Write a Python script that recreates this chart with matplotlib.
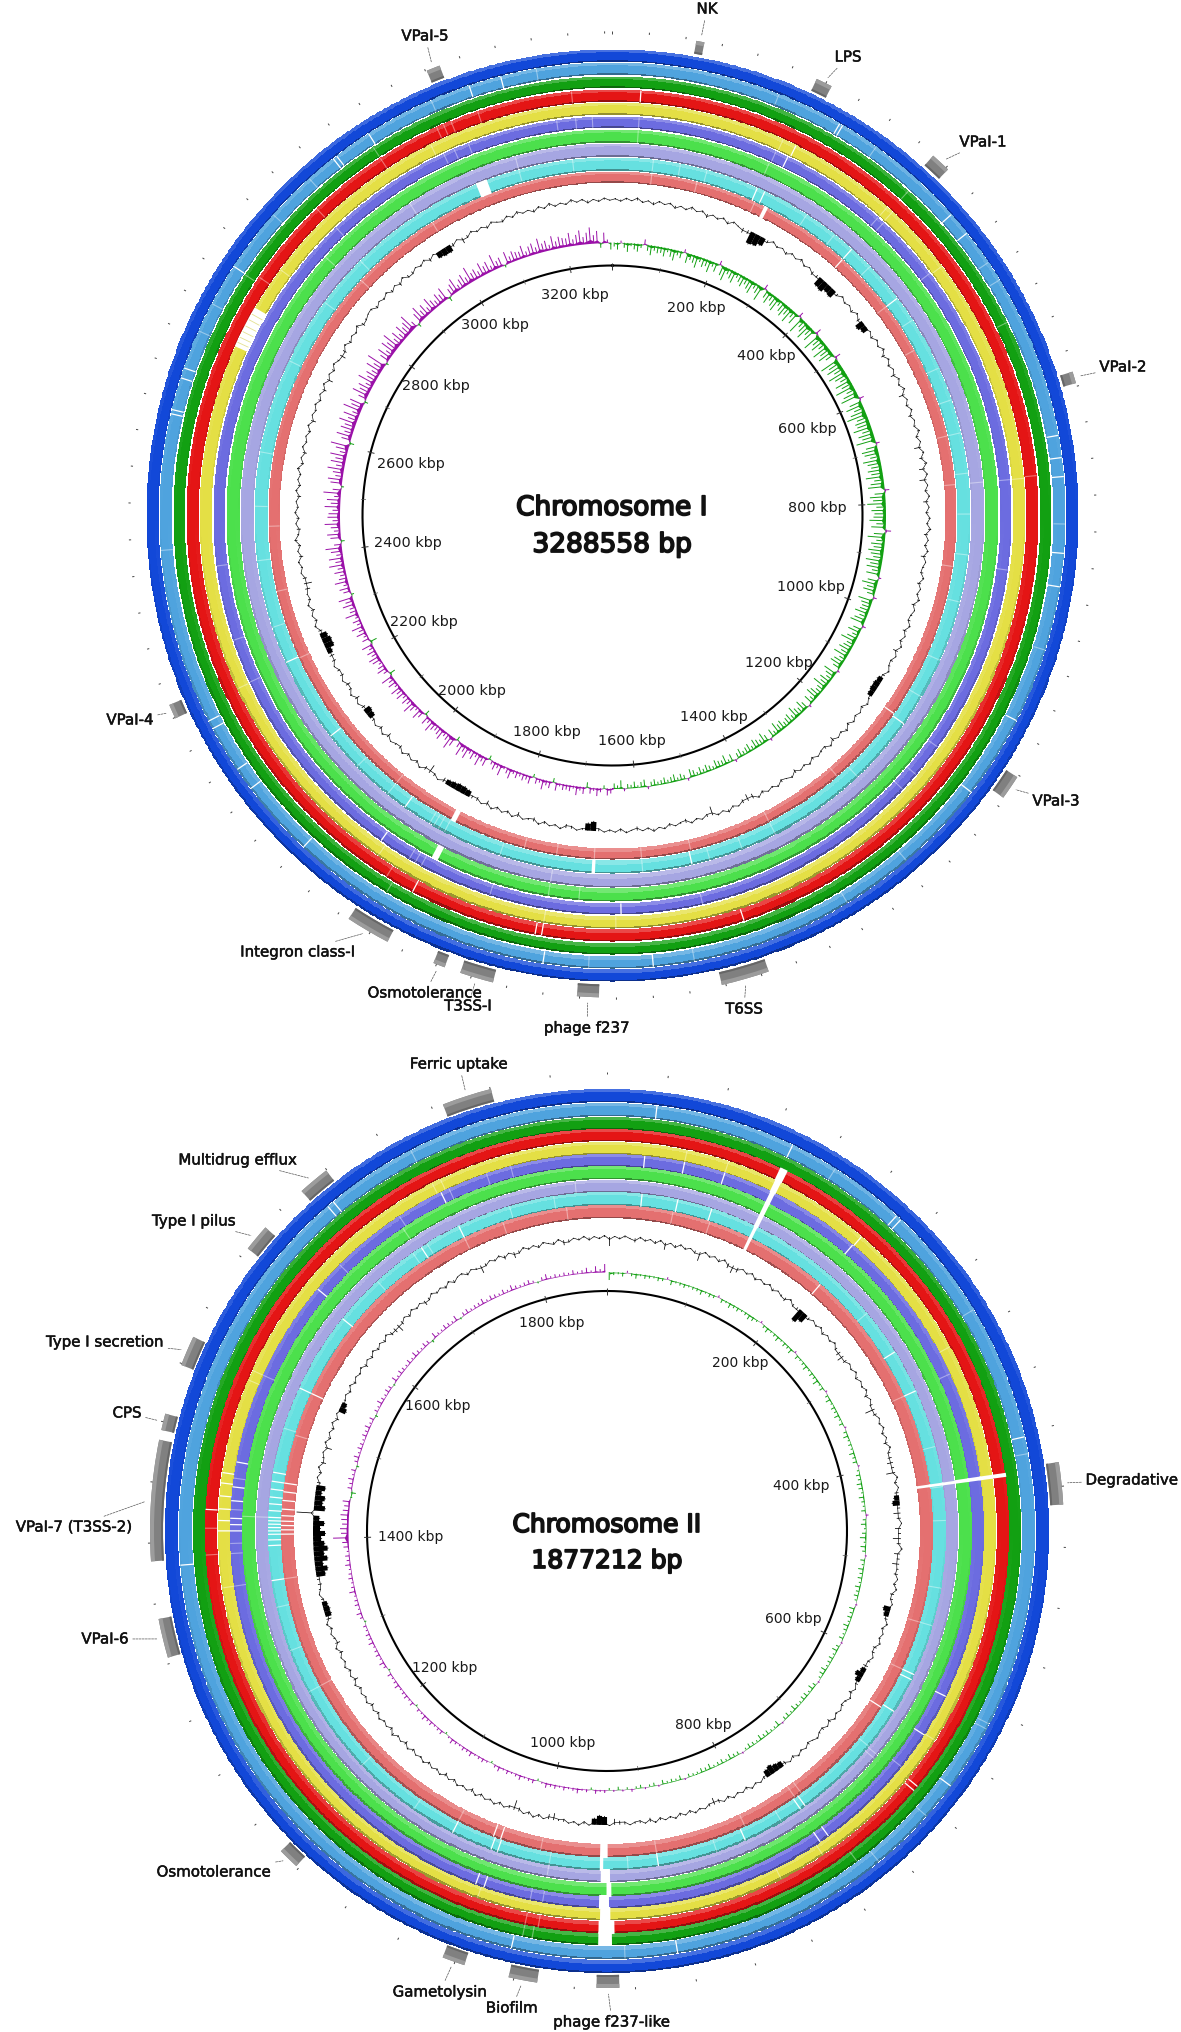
import matplotlib
matplotlib.use("Agg")
import matplotlib.pyplot as plt
import matplotlib.patheffects as pe
import numpy as np

W, H = 1181, 2033

# ring colours, outside to inside
ring_cols = ['#1248d8', '#4fa3de', '#12a012', '#e41515', '#e4df45',
             '#6c6ce0', '#4ce04c', '#a6a6e2', '#66e0e0', '#e47070']
BLUE, SKY, DGREEN, RED, YELLOW, PURPLE, LIME, LAV, CYAN, SALMON = range(10)

# ---------- chromosome I ----------
c1_size = 3288.558
c1_ticks = list(range(200, 3201, 200))
c1_feat_names = ['NK', 'LPS', 'VPaI-1', 'VPaI-2', 'VPaI-3', 'T6SS', 'phage f237', 'T3SS-I',
                 'Osmotolerance', 'Integron class-I', 'VPaI-4', 'VPaI-5']
c1_feat_mid = [96, 238, 392, 670, 1136, 1498, 1671, 1794, 1837, 1923, 2247, 3089]
c1_feat_len = [9, 18, 22, 13, 27, 53, 24, 37, 13, 49, 16, 15]

# white lines in each ring (kbp)
c1_sky_hard = [275, 279, 442, 470, 729, 755, 777, 866, 905, 1068, 1166, 1597, 1725, 2037, 2128, 2155,
               2210, 2220, 2585, 2590, 2628, 2640, 2771, 2941, 2946, 2991, 3120, 3158]
c1_sky_soft = [197, 325, 512, 536, 832, 980, 1275, 1359, 1549, 1672, 2426, 2686, 2721, 2846, 2905, 3073, 3200]
c1_dgreen_soft = [387, 584, 1927, 2770, 2987]
c1_red_hard = [35, 1480, 1732, 1740, 1900]
c1_red_soft = [773, 1937, 2777, 2887, 2987, 3066, 3075, 3085, 3120, 3238]
c1_yellow_hard = [241]
c1_yellow_soft = [223, 381, 390, 483, 775, 1732, 1640, 1960, 2240, 2800, 3050]
c1_purple_hard = [238, 1633, 1968]
c1_purple_soft = [35, 221, 381, 391, 481, 775, 894, 1146, 1192, 1218, 1525, 1808, 1906, 1915, 1924, 2241,
                  2300, 2400, 2888, 3060, 3075, 3095, 3215, 3240, 3262]
c1_lime_soft = [35, 219, 1690, 1732, 2850]
c1_lav_soft = [775, 1732, 2987, 3150]
c1_cyan_hard = [218, 230, 383, 481, 1147, 1527, 1968, 2119, 2245]
c1_cyan_soft = [60, 100, 140, 300, 350, 420, 520, 600, 650, 700, 760, 820, 880, 950, 1040, 1100, 1250, 1397,
                1450, 1500, 1600, 1812, 1900, 1910, 1918, 1925, 2000, 2060, 2300, 2400, 2480, 2560, 2700, 2800,
                2880, 3150, 3230]
c1_salmon_hard = [383, 1143]
c1_salmon_soft = [60, 130, 223, 481, 560, 700, 775, 900, 1272, 1397, 1524, 1600, 1672, 1730, 1780, 2000,
                  2243, 2350, 2450, 2860, 3000]
# wider white patches: ring, from, to
c1_patch_ring = [YELLOW, CYAN, CYAN, LIME, SALMON, SALMON]
c1_patch_from = [2687, 3084, 1670, 1890, 1892, 239]
c1_patch_to = [2742, 3101, 1675, 1899, 1900, 245]
c1_yellow_traces = [2693, 2700, 2708, 2716, 2725, 2733]

# GC content deviation, one value per degree
c1_gc = [
    1, -2, 2, -1, 3, -2, 1, -3, 2, -1,
    2, -3, 1, -2, 3, -1, 2, -4, 1, -2,
    2, -3, 2, -1, -5, -4, -13, -12, -9, -3,
    2, -2, 1, -3, 2, -1, 3, -2, 1, -4,
    -3, -10, -11, -8, -9, -3, 2, -2, 1, -3,
    2, -4, -9, -7, 1, -3, 2, -2, 3, -4,
    2, -3, 1, -5, 2, -2, 3, -6, 1, -3,
    2, -4, 1, -2, 3, -3, 1, -7, 2, -4,
    3, -6, 2, -7, 1, -3, 2, -5, 1, -3,
    2, -2, 3, -4, 1, -3, 2, -5, 1, -2,
    -3, 2, -4, 1, -2, 3, -4, 1, -2, -3,
    2, -4, 1, -3, 2, -5, 1, -3, -2, 2,
    -3, -6, -7, -7, -6, -2, 2, -3, 1, -2,
    2, -3, 3, -2, 1, -5, 2, -3, -2, 1,
    -3, 2, -2, 1, -4, 2, -1, -3, 2, -2,
    1, -3, 2, -5, -7, -4, 1, -2, 3, -1,
    2, -9, -3, 1, -2, 2, -4, -2, 1, -3,
    2, -1, 3, -2, 1, -4, -1, 2, -3, 1,
    -2, 1, -3, -10, -8, -2, 1, -3, -4, 2,
    -2, 1, -3, 2, -4, -2, 1, -5, 2, -3,
    1, -3, 2, -5, 1, -4, -3, -7, -8, -8,
    -7, -6, -5, 1, -3, -9, -4, 2, -3, 1,
    -3, 2, -4, -2, 1, -5, 2, -4, 1, -3,
    -7, -8, -4, 1, -5, 2, -3, -5, 1, -4,
    -3, 1, -4, -5, -6, -10, -10, -8, -4, 2,
    -3, 1, -4, 2, -3, -1, -5, -8, -4, 1,
    -2, 2, -4, 1, -3, 3, -2, -4, 1, -3,
    2, -2, 1, -4, 2, -3, 1, -2, 3, -3,
    1, -4, 2, -2, 1, -3, 2, -5, 1, -2,
    2, -3, 1, -4, 2, -6, 1, -3, 2, -2,
    -6, -4, 2, -3, 1, -2, 3, -4, -2, 1,
    2, -3, 1, -2, 2, -3, 1, -4, 2, -3,
    -3, 1, -2, 2, -4, 1, -7, -8, -8, -4,
    1, -6, -3, 2, -2, 1, -3, 2, -1, -3,
    2, -2, 3, -1, 1, -3, 2, -2, 3, -2,
    1, -2, 3, -1, 2, -3, 1, -2, 2, -1,
]

# GC skew, positive outward (magenta), negative inward (green), 14 values per 10 degrees
c1_skew = [
    -4, -7, 2, -5, -9, -3, -6, -8, -4, 5, -6, -10, -5, -7,
    -6, -9, -4, -8, -11, -5, -7, 3, -10, -6, -8, -12, -5, -9,
    -7, -12, -5, -9, 4, -10, -14, -6, -9, -12, -5, -8, -11, -7,
    -10, -13, -6, -9, -15, 5, -8, -12, -7, -11, -14, -6, -10, -13,
    -9, -15, -7, -12, 5, -17, -8, -11, -16, -9, -13, 6, -18, -10,
    -14, -8, -17, -11, -15, -9, 6, -19, -12, -16, -10, -18, -13, -9,
    -16, -11, -19, -9, -14, -18, 5, -12, -17, -10, -15, -20, -11, -14,
    -13, -18, -10, -15, -12, -19, 4, -11, -16, -14, -9, -17, -13, -10,
    -14, -11, -17, -9, -13, -16, 5, -10, -15, -12, -18, -9, -14, -11,
    -12, -16, -9, -14, 6, -11, -17, -8, -13, -10, -15, -12, -9, -16,
    -11, -14, -8, -13, 3, -10, -15, -9, -12, -7, 4, -14, -10, -8,
    -9, -13, -7, -11, -14, 4, -8, -12, -6, -10, -15, -7, -9, -12,
    -8, -14, -6, -10, -12, -7, 3, -13, -9, -6, -11, -8, -14, -7,
    -6, -10, -12, -5, -9, 3, -7, -11, -6, -8, -12, -5, -9, -7,
    -5, -9, -7, -11, -4, -8, 3, -6, -10, -5, -7, -9, -4, -8,
    -6, -4, -8, -5, 3, -7, -3, -9, -5, -6, -8, -3, -5, -7,
    -4, -7, -3, -6, -8, 3, -4, -6, -3, -7, -5, -3, -6, -4,
    -3, -6, -4, 3, -7, -5, -2, -6, -3, -4, 3, -8, -3, -5,
    5, 7, -3, 4, 8, 3, 6, -5, 7, 4, 9, 3, 6, 5,
    6, 3, 8, -4, 7, 5, 10, 4, 6, -3, 8, 5, 7, 4,
    7, 4, 10, 6, 3, 11, 5, 8, 4, -4, 9, 6, 12, 5,
    9, 5, 12, 7, 13, 6, -4, 9, 14, 7, 5, 11, 8, 6,
    8, 12, 5, 9, -5, 7, 11, 4, 8, 13, 6, 9, 5, 10,
    7, 11, 4, 9, 6, 12, -6, 5, 10, 7, 4, 9, 11, 6,
    9, 5, 11, -7, 7, 4, 10, 6, 12, 5, 8, 4, 13, 7,
    6, 12, 8, 14, -3, 7, 10, 5, 13, 8, 6, 11, 7, 15,
    8, 14, 6, 11, 16, 7, -4, 10, 13, 6, 9, 15, 7, 12,
    11, 7, 15, 9, 13, 6, 17, 8, -3, 11, 14, 7, 10, 16,
    8, 14, 10, 16, 7, 12, 18, -5, 9, 15, 8, 13, 10, 17,
    9, 15, 7, 18, 11, 14, -4, 8, 16, 10, 13, 7, 17, 9,
    12, 8, 16, 10, 19, -3, 9, 14, 7, 15, 11, 18, 8, 13,
    7, 14, 9, 12, 17, 6, -4, 10, 15, 8, 12, 6, 14, 9,
    6, 11, 8, 13, -5, 7, 10, 14, 5, 9, 12, 7, 16, 8,
    10, 6, 13, 8, 11, 5, 15, 7, 9, -3, 12, 6, 10, 8,
    7, 12, 5, 9, 11, 6, 14, 8, 10, 5, 13, 7, 11, 9,
    8, 13, 6, 10, 14, 7, 11, 16, 8, 12, -5, 10, 3, -7,
]

# ---------- chromosome II ----------
c2_size = 1877.212
c2_ticks = list(range(200, 1801, 200))
c2_feat_names = ['Degradative', 'phage f237-like', 'Biofilm', 'Gametolysin', 'Osmotolerance', 'VPaI-6',
                 'VPaI-7 (T3SS-2)', 'CPS', 'Type I secretion', 'Type I pilus', 'Multidrug efflux', 'Ferric uptake']
c2_feat_mid = [438, 938, 994, 1041, 1169, 1337, 1428, 1480, 1529, 1616, 1669, 1784]
c2_feat_len = [28, 15, 19, 15, 14, 26, 80, 11, 20, 18, 21, 33]

c2_sky_hard = [35, 134, 222, 226, 403, 660, 889, 1006, 1384, 1665, 1670]
c2_sky_soft = [168, 307, 415, 609, 613, 687, 733, 926, 1735]
c2_dgreen_soft = [993, 1000, 745]
c2_red_hard = [675, 679, 1424]
c2_red_soft = [990, 1000, 1390, 1410]
c2_yellow_hard = [213, 1408, 1416, 1425, 1435, 1445, 1453]
c2_yellow_soft = [62, 95, 322, 639, 763, 800, 1364, 1527, 1535, 1738, 1745, 1040]
c2_purple_hard = [30, 62, 95, 212, 605, 640, 751, 759, 1038, 1045, 1408, 1413, 1418, 1432, 1443, 1463, 1616, 1741]
c2_purple_soft = [341, 671, 990, 1000, 1364, 1390, 1398, 1425, 1450, 1535, 1642, 1703, 1748, 1780, 1800]
c2_lime_soft = [1700, 1420]
c2_lav_soft = [676, 680, 990, 1420, 1850]
c2_cyan_hard = [31, 63, 94, 303, 342, 600, 605, 637, 752, 757, 813, 893, 1037, 1043, 1080, 1364, 1395, 1400, 1405,
                1408, 1411, 1414, 1417, 1420, 1426, 1432, 1438, 1445, 1452, 1460, 1538, 1610, 1704, 1742]
c2_cyan_soft = [261, 394, 430, 460, 520, 554, 675, 777, 840, 920, 990, 1120, 1180, 1260, 1300, 1340, 1500, 1655,
                1695, 1710, 1790, 1830]
c2_salmon_hard = [213, 640, 1038, 1045, 1405, 1409, 1413, 1417, 1422, 1428, 1436, 1444, 1452, 1538]
c2_salmon_soft = [61, 96, 342, 554, 600, 748, 755, 808, 893, 1000, 1080, 1260, 1364, 1497, 1742, 1780, 1840]
c2_patch_ring = [RED, YELLOW, PURPLE, LIME, LAV, CYAN, SALMON,
                 RED, YELLOW, PURPLE, LIME, LAV, CYAN, SALMON,
                 DGREEN, RED, YELLOW, PURPLE, LIME, LAV, CYAN, SALMON]
c2_patch_from = [133, 133.5, 134, 134, 134, 134.5, 134.5,
                 426, 426, 426, 426, 426.5, 426.5, 426.5,
                 935, 933, 936, 937, 935, 936, 942, 938]
c2_patch_to = [139, 138.5, 138, 138, 138, 137.5, 137.5,
               429, 429, 429, 429, 429, 429, 429,
               945, 945, 944, 945, 939, 944, 945, 945]

c2_gc = [
    -9, 1, -2, 2, -1, -4, 2, -2, 1, -3,
    2, -7, 1, -3, 2, -2, 1, -3, -9, 2,
    -2, 1, -3, 2, -5, -8, -5, 1, -2, 2,
    -3, 1, -2, 2, -3, 1, -2, -4, 2, -3,
    -3, -14, -10, -3, 1, -2, 2, -3, 1, -2,
    2, -3, -5, -7, -4, 1, -2, 2, -3, 1,
    -2, 2, -4, 1, -3, -10, -4, 1, -2, 2,
    -3, 1, -4, 2, -3, -4, -6, -3, -9, 2,
    -3, 1, -4, -6, -8, -3, -7, -4, 1, -6,
    -3, -8, -4, 2, -6, -3, -7, -2, -4, 1,
    -3, 2, -4, -3, 1, -8, -6, -3, 2, -3,
    1, -2, 2, -4, -3, 1, -3, -5, -6, -9,
    -6, -3, 1, -4, 2, -2, -3, 1, -2, 2,
    -4, 1, -3, -2, 2, -1, -3, 1, -2, 2,
    -3, 1, -4, -7, -8, -10, -8, -3, 1, -2,
    2, -3, 1, -2, 2, -3, 1, -4, -7, -3,
    1, -2, 2, -3, 1, -3, 2, -2, 1, -3,
    2, -4, 1, -3, -2, 1, -3, -4, -6, 1,
    -9, -10, -7, 1, -3, 2, -2, 1, -3, -2,
    -7, -5, 1, -3, 2, -3, 1, -4, -10, -3,
    1, -3, 2, -2, 1, -3, 2, -4, 1, -2,
    2, -3, 1, -4, 2, -2, 1, -3, 2, -2,
    1, -3, 2, -4, 1, -2, 3, -3, 1, -2,
    2, -3, 1, -4, 2, -2, 1, -3, 2, -5,
    1, -3, 2, -2, 1, -4, 2, -5, -2, 1,
    -3, 2, -5, -7, -7, -6, -3, 1, -2, -4,
    -3, -10, -13, -9, -14, -11, -15, -12, -9, -13,
    -8, -12, -7, 17, -12, -9, -11, -7, -10, -4,
    1, -3, 2, -5, -2, 1, -7, 2, -3, 1,
    -3, 2, -4, 1, -8, -6, -2, 1, -3, 2,
    -3, 1, -2, 2, -4, 1, -3, 2, -3, 1,
    -3, 2, -4, -5, -8, -4, 1, -3, 2, -2,
    1, -5, -3, 2, -2, 1, -3, 2, -3, 1,
    2, -3, 1, -2, -8, -3, 1, -2, 2, -4,
    1, -6, -3, 2, -2, 1, -3, 2, -1, -3,
    2, -5, -3, 1, -2, 2, -3, 1, -2, 2,
]

c2_skew = [
    -8, -3, -2, -4, 2, -3, -5, -2, -4, -3,
    -2, -4, -3, 2, -5, -2, -3, -4, -2, -3,
    -3, -5, -2, -4, -3, 2, -4, -2, -5, -3,
    -4, -2, -3, -5, -4, -2, 2, -3, -5, -2,
    -3, -5, -2, -4, -3, -5, 2, -4, -2, -3,
    -5, -2, -4, -3, -6, -2, -4, 2, -3, -5,
    -2, -4, -3, -5, -2, -4, 2, -3, -5, -2,
    -3, -2, -5, -3, -4, 2, -2, -4, -3, -5,
    -4, -2, -5, -3, -2, -4, 3, -3, -5, -2,
    -4, -6, -2, -5, -3, 2, -4, -2, -5, -3,
    -4, -2, -5, -3, -4, -2, 2, -5, -3, -4,
    -2, -5, -3, -2, -4, 2, -3, -5, -2, -4,
    -3, -2, -5, -4, -2, 2, -3, -5, -2, -4,
    -4, -2, -3, -5, -2, -4, -3, 2, -5, -2,
    -2, -4, -3, -5, -2, -3, -4, -2, 2, -3,
    -3, -5, -2, -4, -3, -2, -5, -3, -4, -2,
    -2, -3, 2, -4, -2, -3, -2, -4, 2, -3,
    -2, 2, -3, -2, 3, -2, 2, -3, 2, -2,
    3, 2, 4, -2, 3, 2, 5, 3, 2, 4,
    2, 4, 3, 5, 2, -2, 4, 3, 2, 5,
    3, 2, 4, 2, 5, 3, -2, 2, 4, 3,
    2, 5, 3, 4, 2, 3, 5, 2, -2, 4,
    3, 2, 4, 3, 5, 2, 3, -2, 4, 2,
    4, 3, 2, 5, 3, 2, 4, -2, 3, 5,
    2, 4, 3, 2, 5, 3, 4, 2, 3, -2,
    3, 5, 2, 4, 3, 2, 6, 3, 2, 4,
    3, 2, 5, 3, 4, 2, 5, 6, 15, 7,
    8, 6, 7, 8, 6, 5, 7, -2, -5, 4,
    3, 5, 2, 4, -3, 3, 5, 2, 4, 3,
    2, 4, 3, 5, 2, 4, -3, 3, 2, 5,
    3, 2, 4, 3, -2, 5, 2, 4, 3, 2,
    4, 2, 5, 3, 2, 4, 3, -3, 5, 2,
    2, 4, 3, 2, 5, -2, 3, 4, 2, 3,
    3, 5, 2, 4, 3, 2, 4, 2, 5, 3,
    2, 3, 4, 2, -2, 3, 5, 2, 3, 2,
    3, 2, 4, 2, 3, 5, 2, 6, 3, 8,
]


fig = plt.figure(figsize=(W / 100, H / 100), dpi=100, facecolor='white')
label_fx = [pe.withStroke(linewidth=0.35, foreground='#111111')]
title_fx = [pe.withStroke(linewidth=1.3, foreground='#111111')]


def polar_axes(cx, cy, rmax):
    ax = fig.add_axes([(cx - rmax) / W, 1 - (cy + rmax) / H, 2 * rmax / W, 2 * rmax / H],
                      projection='polar', facecolor='none')
    ax.set_theta_zero_location('N')
    ax.set_theta_direction(-1)
    ax.set_axis_off()
    return ax


def shaded_ring(ax, col, r0, r1):
    # lit from the top: upper edge of the band lighter, lower edge darker
    th = np.linspace(0, 2 * np.pi, 1081)
    rr = np.linspace(r0, r1, 10)
    base = np.array(matplotlib.colors.to_rgb(col))
    mid_th = 0.5 * (th[:-1] + th[1:])
    mid_s = (0.5 * (rr[:-1] + rr[1:]) - r0) / (r1 - r0)
    c = np.cos(mid_th)
    top = np.where(c > 0, c, 0)
    bot = np.where(c < 0, -c, 0)
    img = np.zeros((len(mid_s), len(mid_th), 3))
    for i, s in enumerate(mid_s):
        amt = top * (0.22 if s > 0.78 else 0) - top * (0.35 if s < 0.12 else 0) \
            + bot * (0.22 if s < 0.3 else 0) - bot * (0.35 if s > 0.85 else 0)
        for k in range(3):
            img[i, :, k] = np.where(amt > 0, base[k] + (1 - base[k]) * amt, base[k] * (1 + amt))
    ax.pcolormesh(th, rr, img, shading='flat', linewidth=0, antialiased=False)


def to_th(kbp, size):
    return np.asarray(kbp, dtype=float) / size * 2 * np.pi


def draw_chromosome(ax, size, outer, inner, hard, soft, patch_ring, patch_from, patch_to, gc, skew,
                    gc_r, skew_r, circle_r, ticks, feat_mid, feat_len, feat_in, feat_out, speck_r):
    for i, col in enumerate(ring_cols):
        shaded_ring(ax, col, inner[i], outer[i])
    for i, vals in hard.items():
        ax.vlines(to_th(vals, size), inner[i], outer[i], color='white', lw=0.9, zorder=3)
    for i, vals in soft.items():
        ax.vlines(to_th(vals, size), inner[i], outer[i], color='white', lw=0.8, alpha=0.4, zorder=3)
    for i, a, b in zip(patch_ring, patch_from, patch_to):
        a0, b0 = to_th([a, b], size)
        ax.bar(0.5 * (a0 + b0), outer[i] - inner[i] + 2, width=b0 - a0, bottom=inner[i] - 1, color='white',
               linewidth=0, zorder=4)

    tt = np.linspace(0, 2 * np.pi, 1441)

    # GC content: jagged thin trace with hairs, solid mass only where deep dips run together
    g = np.array(gc, dtype=float)
    step = 2 * np.pi / len(g)
    th = (np.arange(len(g)) + 0.5) * step
    ax.plot(np.r_[th, th[0] + 2 * np.pi], gc_r + 0.8 * np.clip(np.r_[g, g[0]], -3, 3), color='black', lw=0.45, zorder=2)
    ax.vlines(th, gc_r, gc_r + g, color='black', lw=0.55, zorder=2)
    deep = g <= -6
    mass = deep & (np.roll(deep, 1) | np.roll(deep, -1))
    ax.bar(th[mass], g[mass] + 1, width=step * 1.02, bottom=gc_r, color='black', linewidth=0, zorder=2)

    # GC skew: hairs plus a thin solid core close to the baseline
    s = np.array(skew, dtype=float)
    th = (np.arange(len(s)) + 0.5) / len(s) * 2 * np.pi
    ax.vlines(th[s > 0], skew_r, skew_r + s[s > 0], color='#9a10a8', lw=0.7, zorder=2)
    ax.vlines(th[s < 0], skew_r, skew_r + s[s < 0], color='#12a012', lw=0.7, zorder=2)
    ax.fill_between(th, skew_r, skew_r + np.minimum(s, 0) * 0.25, color='#12a012', lw=0, zorder=2)
    ax.fill_between(th, skew_r, skew_r + np.maximum(s, 0) * 0.25, color='#9a10a8', lw=0, zorder=2)

    # backbone circle and scale
    ax.plot(tt, np.full_like(tt, circle_r), color='black', lw=1.5, zorder=5)
    major = to_th(np.arange(0, size, 200), size)
    minor = to_th(np.arange(100, size, 200), size)
    ax.vlines(major, circle_r - 4, circle_r + 3, color='#333333', lw=0.7, zorder=5)
    ax.vlines(minor, circle_r - 3, circle_r + 2, color='#555555', lw=0.5, zorder=5)

    for t in ticks:
        a = t / size * 2 * np.pi
        rl = circle_r * (0.9 - 0.08 * abs(np.sin(a)) ** 6)
        ax.text(a, rl, '%d kbp' % t, ha='center', va='center', fontsize=10.1 * circle_r / 250 + 0.3, color='#1a1a1a',
                zorder=6)

    # feature blocks
    fth = to_th(feat_mid, size)
    fw = to_th(feat_len, size)
    ax.bar(fth, feat_out - feat_in, width=fw, bottom=feat_in, color='#808080', linewidth=0, zorder=2)
    ax.bar(fth, 4, width=fw, bottom=feat_out - 4, color='#9c9c9c', linewidth=0, zorder=2)
    ax.bar(fth, 2, width=fw, bottom=feat_in, color='#666666', linewidth=0, zorder=2)

    # small marks every 40 kbp outside the rings
    sp = to_th(np.arange(0, size, 40), size)
    ax.vlines(sp, speck_r - 1, speck_r + 1.2, color='#444444', lw=0.7, zorder=2)
    ax.set_ylim(0, RMAX)


def feature_label(ax, size, kbp, r, text, px, py):
    ax.annotate(text, xy=(kbp / size * 2 * np.pi, r), xycoords='data',
                xytext=(px, H - py), textcoords='figure pixels', ha='center', va='center',
                fontsize=10.8, color='#111111', annotation_clip=False, path_effects=label_fx, zorder=7,
                arrowprops=dict(arrowstyle='-', lw=0.5, ls=(0, (3, 1.5)), color='#555555', shrinkA=1, shrinkB=3))


RMAX = 560

# chromosome I
ax1 = polar_axes(612.5, 516.5, RMAX)
outer1 = [466, 453, 439, 426, 413, 399, 386, 372, 358, 344]
inner1 = [454, 441, 428, 414, 401, 388, 373, 359, 345, 333]
hard1 = {SKY: c1_sky_hard, RED: c1_red_hard, YELLOW: c1_yellow_hard, PURPLE: c1_purple_hard, CYAN: c1_cyan_hard,
         SALMON: c1_salmon_hard}
soft1 = {SKY: c1_sky_soft, DGREEN: c1_dgreen_soft, RED: c1_red_soft, YELLOW: c1_yellow_soft, PURPLE: c1_purple_soft,
         LIME: c1_lime_soft, LAV: c1_lav_soft, CYAN: c1_cyan_soft, SALMON: c1_salmon_soft}
draw_chromosome(ax1, c1_size, outer1, inner1, hard1, soft1, c1_patch_ring, c1_patch_from, c1_patch_to,
                c1_gc, c1_skew, 316, 273, 250, c1_ticks, c1_feat_mid, c1_feat_len, 469, 482, 483)
ax1.vlines(to_th(c1_yellow_traces, c1_size), inner1[YELLOW], outer1[YELLOW], color='#d8d460', lw=0.6, alpha=0.7, zorder=5)

c1_label_xy = [(707, 10), (848, 58), (983, 143), (1123, 368), (1056, 802), (744, 1010), (587, 1029), (468, 1007),
               (425, 994), (298, 953), (130, 721), (425, 37)]
for txt, m, xy in zip(c1_feat_names, c1_feat_mid, c1_label_xy):
    feature_label(ax1, c1_size, m, 484, txt, xy[0], xy[1])

# chromosome II
ax2 = polar_axes(607, 1532, RMAX)
outer2 = [442, 428, 414, 402, 389, 377, 365, 351, 339, 326]
inner2 = [429, 415, 402, 390, 377, 365, 352, 339, 326, 313]
hard2 = {SKY: c2_sky_hard, RED: c2_red_hard, YELLOW: c2_yellow_hard, PURPLE: c2_purple_hard, CYAN: c2_cyan_hard,
         SALMON: c2_salmon_hard}
soft2 = {SKY: c2_sky_soft, DGREEN: c2_dgreen_soft, RED: c2_red_soft, YELLOW: c2_yellow_soft, PURPLE: c2_purple_soft,
         LIME: c2_lime_soft, LAV: c2_lav_soft, CYAN: c2_cyan_soft, SALMON: c2_salmon_soft}
draw_chromosome(ax2, c2_size, outer2, inner2, hard2, soft2, c2_patch_ring, c2_patch_from, c2_patch_to,
                c2_gc, c2_skew, 294, 259, 240, c2_ticks, c2_feat_mid, c2_feat_len, 444, 457, 458)

c2_label_xy = [(1132, 1481), (612, 2023), (512, 2009), (440, 1993), (214, 1873), (105, 1640), (74, 1528), (127, 1414),
               (105, 1343), (194, 1222), (238, 1161), (459, 1065)]
for txt, m, xy in zip(c2_feat_names, c2_feat_mid, c2_label_xy):
    feature_label(ax2, c2_size, m, 459, txt, xy[0], xy[1])

# centre titles
fig.text(612 / W, 1 - 509 / H, 'Chromosome I', ha='center', va='center', fontsize=19, color='#111111', path_effects=title_fx)
fig.text(612 / W, 1 - 546 / H, '3288558 bp', ha='center', va='center', fontsize=19, color='#111111', path_effects=title_fx)
fig.text(607 / W, 1 - 1526 / H, 'Chromosome II', ha='center', va='center', fontsize=18, color='#111111', path_effects=title_fx)
fig.text(607 / W, 1 - 1562 / H, '1877212 bp', ha='center', va='center', fontsize=18, color='#111111', path_effects=title_fx)

fig.savefig('out.png', dpi=100, facecolor='white')
